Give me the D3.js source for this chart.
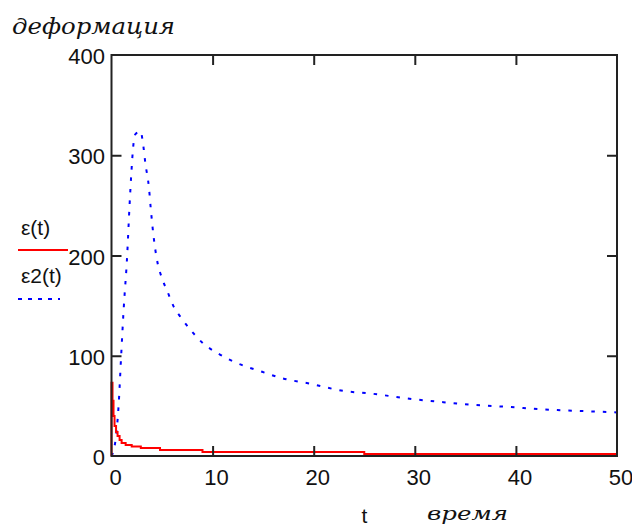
<html>
<head>
<meta charset="utf-8">
<script src="https://d3js.org/d3.v7.min.js"></script>
<style>
body { margin: 0; background: white; }
text { font-family: "Liberation Sans", Arial, sans-serif; }
</style>
</head>
<body>
<svg id="chart" width="632" height="527"></svg>
<script>
// values
const xTicks = [0, 10, 20, 30, 40, 50];
const yTicks = [0, 100, 200, 300, 400];

// eps(t), red stepped curve
const tRed = [0, 0, 0.1, 0.2, 0.3, 0.45, 0.6, 0.8, 1.0, 1.4, 2.0, 2.9, 4.8, 9.0, 25, 50];
const eRed = [0, 73, 55, 40, 30, 24, 20, 16, 13, 11, 9.5, 8, 6, 4, 2, 2];

// eps2(t), blue dotted curve
const tBlue = [0, 0.2, 0.4, 0.7, 0.95, 1.2, 1.55, 1.78, 1.98, 2.14, 2.37, 2.87, 3.1, 3.35, 3.7, 3.9,
  4.15, 4.44, 5.0, 5.5, 6.15, 6.8, 7.8, 9.1, 10.6, 12.1, 14.9, 16.7, 19.7, 22.9, 25.9, 29.2,
  32.5, 35.8, 39.2, 42.7, 46.1, 50];
const eBlue = [0, 5, 16, 50, 99, 146, 200, 249, 285, 308, 321, 324, 313, 292, 268, 245,
  220, 199, 177, 165, 149, 139, 126, 112, 102, 94, 84, 78, 72, 65, 62, 57.5,
  54, 51, 49, 46.5, 45, 43.5];

var svg = d3.select("#chart");
var x = d3.scaleLinear().domain([0, 50]).range([111.5, 617]);
var y = d3.scaleLinear().domain([0, 400]).range([456, 55]);

// curves
var red = tRed.map(function (t, i) { return [t, eRed[i]]; });
var blue = tBlue.map(function (t, i) { return [t, eBlue[i]]; });

svg.append("path")
  .attr("d", d3.line().x(d => x(d[0])).y(d => y(d[1])).curve(d3.curveMonotoneX)(blue))
  .attr("fill", "none")
  .attr("stroke", "#0000ff")
  .attr("stroke-width", 2)
  .attr("stroke-dasharray", "3.5,8");

svg.append("path")
  .attr("d", d3.line().x(d => x(d[0])).y(d => y(d[1])).curve(d3.curveStepAfter)(red))
  .attr("fill", "none")
  .attr("stroke", "#ff0000")
  .attr("stroke-width", 2);

// frame with inward ticks on every side
function inner(g) {
  g.select(".domain").remove();
  g.selectAll("text").remove();
  g.selectAll("line").attr("stroke", "#222").attr("stroke-width", 2);
}
var mid = xTicks.slice(1, -1), midY = yTicks.slice(1, -1);
svg.append("g").attr("transform", "translate(0,456)")
  .call(d3.axisBottom(x).tickValues(mid).tickSize(-10)).call(inner);
svg.append("g").attr("transform", "translate(0,55)")
  .call(d3.axisTop(x).tickValues(mid).tickSize(-10)).call(inner);
svg.append("g").attr("transform", "translate(111.5,0)")
  .call(d3.axisLeft(y).tickValues(midY).tickSize(-10)).call(inner);
svg.append("g").attr("transform", "translate(617,0)")
  .call(d3.axisRight(y).tickValues(midY).tickSize(-10)).call(inner);

svg.append("rect")
  .attr("x", 111.5).attr("y", 55).attr("width", 617 - 111.5).attr("height", 401)
  .attr("fill", "none").attr("stroke", "#222").attr("stroke-width", 2);

// tick labels
svg.selectAll(".xl").data(xTicks).enter().append("text")
  .attr("x", d => x(d) + 4).attr("y", 485)
  .attr("text-anchor", "middle")
  .style("font-size", "22px").attr("fill", "#111")
  .text(d => d);
svg.selectAll(".yl").data(yTicks).enter().append("text")
  .attr("x", 105).attr("y", d => y(d) + 9)
  .attr("text-anchor", "end")
  .style("font-size", "22px").attr("fill", "#111")
  .text(d => d);

// axis titles
svg.append("text").attr("x", 12).attr("y", 34)
  .attr("textLength", 163).attr("lengthAdjust", "spacingAndGlyphs")
  .style("font-family", "'DejaVu Serif', serif").style("font-style", "italic")
  .style("font-size", "22px").attr("fill", "#111")
  .text("деформация");
svg.append("text").attr("x", 427).attr("y", 520)
  .attr("textLength", 81).attr("lengthAdjust", "spacingAndGlyphs")
  .style("font-family", "'DejaVu Serif', serif").style("font-style", "italic")
  .style("font-size", "18px").attr("fill", "#111")
  .text("время");
svg.append("text").attr("x", 364.5).attr("y", 523)
  .attr("text-anchor", "middle")
  .style("font-size", "21px").attr("fill", "#111")
  .text("t");

// legend
svg.append("text").attr("x", 21).attr("y", 235)
  .style("font-size", "21px").attr("fill", "#111").text("ε(t)");
svg.append("line").attr("x1", 18).attr("x2", 68).attr("y1", 250).attr("y2", 250)
  .attr("stroke", "#ff0000").attr("stroke-width", 2);
svg.append("text").attr("x", 21).attr("y", 283)
  .style("font-size", "21px").attr("fill", "#111").text("ε2(t)");
svg.append("line").attr("x1", 18).attr("x2", 60).attr("y1", 299).attr("y2", 299)
  .attr("stroke", "#0000ff").attr("stroke-width", 2).attr("stroke-dasharray", "4,6");
</script>
</body>
</html>
